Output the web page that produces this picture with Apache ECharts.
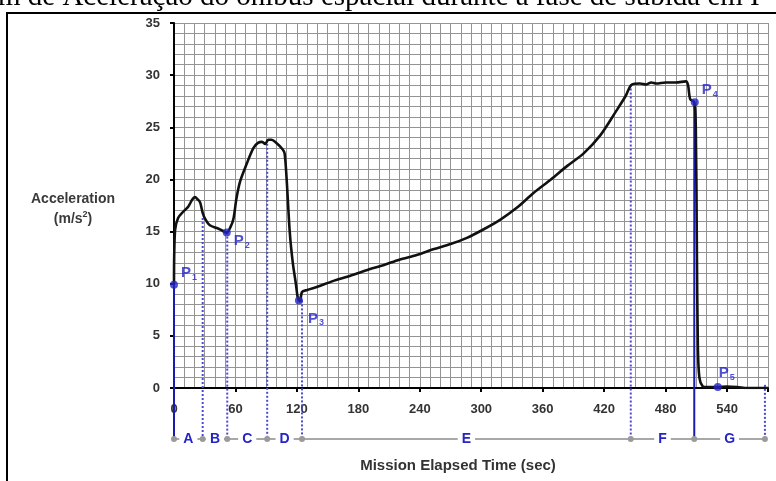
<!DOCTYPE html>
<html><head><meta charset="utf-8">
<script src="https://cdn.jsdelivr.net/npm/echarts@6/dist/echarts.min.js"></script>
<style>html,body{margin:0;padding:0;background:#fff;overflow:hidden}#c{width:776px;height:481px}</style>
</head><body><div id="c"></div>
<script>
// ---- data ----
const timeSec = [0, 1, 4, 9, 14, 18, 20.5, 23, 25.5, 28, 30.5, 35, 43, 47, 51.5, 55, 58, 61, 64.5, 71, 77.5, 82, 86, 89, 92, 95, 100, 106, 108, 110, 113, 116, 119, 121, 123, 125, 130, 140, 155, 170, 188, 205, 220, 237, 253, 270, 286, 302, 318, 335, 351, 368, 384, 400, 416, 432, 441, 447, 455, 461, 466, 471, 480, 490, 500, 502, 504, 508, 509.5, 510.5, 511.5, 513, 516, 520, 530, 540, 550, 560, 580];
const accel   = [10, 15.1, 16.3, 16.9, 17.4, 18.1, 18.3, 18.1, 17.8, 16.8, 16.2, 15.6, 15.3, 15.1, 14.9, 15.4, 16.2, 18.2, 19.8, 21.5, 23.0, 23.5, 23.6, 23.4, 23.8, 23.8, 23.5, 22.9, 22.5, 20, 15, 12, 10, 8.6, 8.3, 9.2, 9.4, 9.7, 10.25, 10.7, 11.3, 11.8, 12.3, 12.75, 13.3, 13.8, 14.4, 15.2, 16.1, 17.3, 18.7, 20.0, 21.3, 22.5, 24.2, 26.6, 28.0, 29.1, 29.2, 29.1, 29.3, 29.2, 29.3, 29.3, 29.4, 29.0, 27.7, 27.4, 25, 14, 4, 1.0, 0.2, 0.1, 0.1, 0.15, 0.1, 0, 0];
const pointSubs  = ['1', '2', '3', '4', '5'];
const pointTime  = [0, 51.5, 122, 508.5, 531];
const pointAccel = [9.9, 14.9, 8.4, 27.4, 0.1];
const phaseBounds = [0, 28, 52, 91, 125, 446, 508, 577];
const phaseTops   = [9.9, 16.3, 14.9, 23.8, 8.4, 29.1, 27.4, 0.3];
const phaseLetters = ['A', 'B', 'C', 'D', 'E', 'F', 'G'];
const xTickLabels = [0, 60, 120, 180, 240, 300, 360, 420, 480, 540];
const yTickLabels = [0, 5, 10, 15, 20, 25, 30, 35];
const titleText = 'm de Aceleração do ônibus espacial durante a fase de subida em I';
const xName = 'Mission Elapsed Time (sec)';

// ---- chart ----
const BLUE = '#2424c8';
const chart = echarts.init(document.getElementById('c'), null, {renderer: 'canvas'});
const lineData = timeSec.map((t, i) => [t, accel[i]]);
const pointData = pointTime.map((t, i) => ({value: [t, pointAccel[i]], sub: pointSubs[i]}));
const labelOffsets = [[0, -12], [0, 8], [2, 18], [0, -12], [-6, -14]];
pointData.forEach((p, i) => { p.label = {offset: labelOffsets[i]}; });

const gridLine = {show: true, lineStyle: {color: '#949494', width: 1}};
const axisFont = {fontFamily: 'Liberation Sans, Arial, sans-serif', fontWeight: 'bold', fontSize: 13, color: '#333'};

chart.setOption({
  animation: false,
  backgroundColor: '#fff',
  grid: {left: 174, top: 23, right: 8, bottom: 93, containLabel: false},
  xAxis: [{
    type: 'value', min: 0, max: 580, interval: 10,
    axisLine: {lineStyle: {color: '#000', width: 2}},
    axisTick: {show: false},
    axisLabel: Object.assign({margin: 15, showMaxLabel: false,
      formatter: v => (xTickLabels.indexOf(v) >= 0 ? String(v) : '')}, axisFont),
    splitLine: gridLine
  }, {
    type: 'value', min: 0, max: 580, interval: 60, position: 'bottom',
    axisLine: {show: false}, axisLabel: {show: false}, splitLine: {show: false},
    axisTick: {show: true, length: 4, lineStyle: {color: '#000', width: 2}}
  }],
  yAxis: [{
    type: 'value', min: 0, max: 35, interval: 1,
    axisLine: {show: true, lineStyle: {color: '#000', width: 2}},
    axisTick: {show: false},
    axisLabel: Object.assign({margin: 14,
      formatter: v => (yTickLabels.indexOf(v) >= 0 ? String(v) : '')}, axisFont),
    splitLine: gridLine
  }, {
    type: 'value', min: 0, max: 35, interval: 5, position: 'left',
    axisLine: {show: false}, axisLabel: {show: false}, splitLine: {show: false},
    axisTick: {show: true, length: 4, lineStyle: {color: '#000', width: 2}}
  }],
  series: [{
    type: 'line', data: lineData, xAxisIndex: 0, yAxisIndex: 0,
    showSymbol: false, smooth: 0.3,
    lineStyle: {color: '#111', width: 2.6}, z: 5
  }, {
    type: 'scatter', data: pointData, xAxisIndex: 0, yAxisIndex: 0,
    symbolSize: 8, itemStyle: {color: BLUE}, z: 6,
    label: {
      show: true, position: 'right', distance: 3,
      formatter: p => '{p|P}{s|' + p.data.sub + '}',
      rich: {
        p: {fontFamily: 'Liberation Sans, Arial, sans-serif', fontWeight: 'bold', fontSize: 15, color: BLUE},
        s: {fontFamily: 'Liberation Sans, Arial, sans-serif', fontWeight: 'bold', fontSize: 9, color: BLUE, padding: [9, 0, 0, 1]}
      }
    }
  }]
});

function drawExtras() {
  const els = [];
  const barY = 439;
  const px = (t, a) => chart.convertToPixel({xAxisIndex: 0, yAxisIndex: 0}, [t, a]);
  phaseBounds.forEach((t, i) => {
    const top = px(t, phaseTops[i]);
    const solid = (i === 0 || i === 6);
    els.push({type: 'line', z: 4, shape: {x1: top[0], y1: top[1], x2: top[0], y2: barY},
      style: {stroke: solid ? '#1a1ab0' : '#4a4ad8', lineWidth: 2, lineDash: solid ? null : [2, 2]}});
  });
  const x0 = px(phaseBounds[0], 0)[0], x1 = px(phaseBounds[phaseBounds.length - 1], 0)[0];
  els.push({type: 'line', z: 3, shape: {x1: x0, y1: barY, x2: x1, y2: barY}, style: {stroke: '#a8a8a8', lineWidth: 2}});
  phaseBounds.forEach(t => {
    const x = px(t, 0)[0];
    els.push({type: 'circle', z: 5, shape: {cx: x, cy: barY, r: 3}, style: {fill: '#9a9a9a'}});
  });
  phaseLetters.forEach((L, i) => {
    const xm = (px(phaseBounds[i], 0)[0] + px(phaseBounds[i + 1], 0)[0]) / 2;
    els.push({type: 'text', z: 6, x: xm, y: barY, style: {text: L, fill: BLUE,
      font: 'bold 14px "Liberation Sans", Arial, sans-serif', align: 'center', verticalAlign: 'middle',
      backgroundColor: '#fff', padding: [0, 4]}});
  });
  els.push({type: 'text', x: 458, y: 466, style: {text: xName, fill: '#333',
    font: 'bold 15px "Liberation Sans", Arial, sans-serif', align: 'center', verticalAlign: 'middle'}});
  els.push({type: 'text', x: 73, y: 199, style: {text: 'Acceleration', fill: '#3a3a3a',
    font: 'bold 14px "Liberation Sans", Arial, sans-serif', align: 'center', verticalAlign: 'middle'}});
  els.push({type: 'text', x: 73, y: 219, style: {text: '{a|(m/s}{b|2}{a|)}', align: 'center', verticalAlign: 'middle',
    rich: {a: {fill: '#3a3a3a', font: 'bold 14px "Liberation Sans", Arial, sans-serif'},
           b: {fill: '#3a3a3a', font: 'bold 9px "Liberation Sans", Arial, sans-serif', padding: [0, 0, 9, 0]}}}});
  els.push({type: 'rect', z: 1, shape: {x: 7, y: 13, width: 800, height: 500}, style: {fill: null, stroke: '#000', lineWidth: 2}});
  els.push({type: 'text', x: -2, y: 12, style: {text: titleText, fill: '#000',
    font: '29px "Liberation Serif", "Times New Roman", serif', align: 'left', verticalAlign: 'bottom'}});
  chart.setOption({graphic: els});
}
drawExtras();
</script>
</body></html>
